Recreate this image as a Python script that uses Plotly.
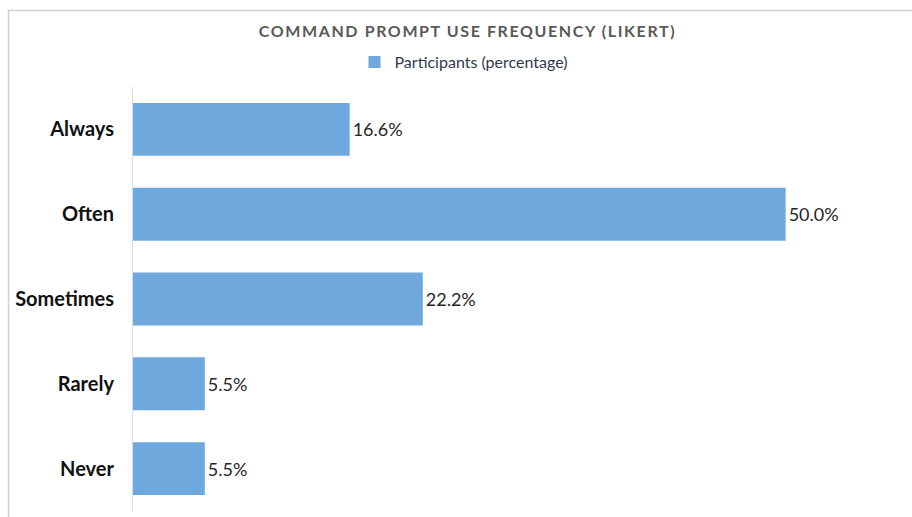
import plotly.graph_objects as go

categories = ["Always", "Often", "Sometimes", "Rarely", "Never"]
values = [16.6, 50.0, 22.2, 5.5, 5.5]
labels = ["16.6%", "50.0%", "22.2%", "5.5%", "5.5%"]
series_name = "Participants (percentage)"
title_text = "COMMAND PROMPT USE FREQUENCY (LIKERT)"

W, H = 912, 517
L, R, T, B = 133, 35, 87, 6
pw = W - L - R
ph = H - T - B

fig = go.Figure()
fig.add_trace(go.Bar(
    y=categories, x=values, orientation="h", name=series_name,
    marker=dict(color="#6FA8DC", line=dict(width=0)),
    text=labels, textposition="outside", cliponaxis=False,
    textfont=dict(family="Lato", size=18, color="#262626"),
    showlegend=True,
))

def px_x(x):
    return (x - L) / pw

def px_y(y):
    return (H - B - y) / ph

fig.update_layout(
    width=W, height=H,
    margin=dict(l=L, r=R, t=T, b=B),
    paper_bgcolor="white", plot_bgcolor="white",
    bargap=0.376,
    title=dict(text="<b>" + title_text + "</b>", x=467.5 / W, xanchor="center",
               xref="container", yref="container", y=1 - 31 / H, yanchor="middle",
               font=dict(family="Lato", size=16, color="#595959")),
    legend=dict(orientation="h", xref="container", yref="container",
                x=464 / W, xanchor="center", y=1 - 62 / H, yanchor="middle",
                font=dict(family="Lato", size=16, color="#2F3B4C"),
                itemwidth=30, bgcolor="rgba(0,0,0,0)"),
    xaxis=dict(range=[0, 57], showgrid=False, zeroline=False, showticklabels=False,
               showline=False, fixedrange=True),
    yaxis=dict(autorange="reversed", showgrid=False, zeroline=False,
               showline=True, linecolor="#D5DFEC", linewidth=1,
               ticks="", ticklabelstandoff=14,
               tickfont=dict(family="Lato", size=20, color="#111111", weight="bold")),
    shapes=[dict(type="rect", xref="paper", yref="paper",
                 x0=px_x(8.5), x1=px_x(W + 20), y0=px_y(H + 20), y1=px_y(10.5),
                 line=dict(color="#D0D0D0", width=1.5), fillcolor="rgba(0,0,0,0)",
                 layer="below")],
)

fig.write_html("out.html", config={"displayModeBar": False})

# remove the default page margin and add title letter spacing
with open("out.html", "r", encoding="utf-8") as f:
    html = f.read()
style = "<style>html,body{margin:0;padding:0;overflow:hidden}.gtitle{letter-spacing:1.6px}</style>"
html = html.replace("<head>", "<head>" + style, 1)
with open("out.html", "w", encoding="utf-8") as f:
    f.write(html)
